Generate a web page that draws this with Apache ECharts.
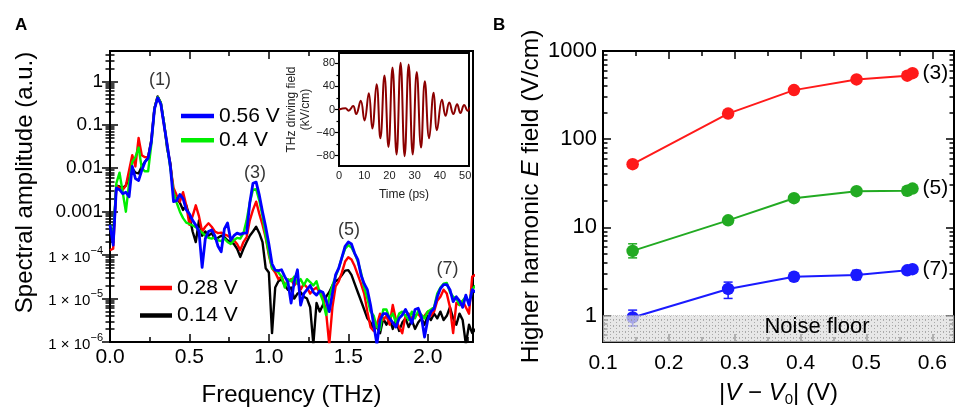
<!DOCTYPE html>
<html>
<head>
<meta charset="utf-8">
<script src="https://cdn.jsdelivr.net/npm/echarts@6/dist/echarts.min.js"></script>
<style>
  html, body { margin: 0; padding: 0; background: #fff; }
  #chart { width: 955px; height: 407px; }
</style>
</head>
<body>
<div id="chart"></div>
<script>
const FONT = '"Liberation Sans", Arial, Helvetica, sans-serif';

// ---------- Panel A: emission spectra ----------
const freqTHz = [
  0.00,0.02,0.04,0.06,0.08,0.10,0.12,0.14,0.16,0.18,
  0.20,0.22,0.24,0.26,0.28,0.30,0.32,0.34,0.36,0.38,
  0.40,0.42,0.44,0.46,0.48,0.50,0.52,0.54,0.56,0.58,
  0.60,0.62,0.64,0.66,0.68,0.70,0.72,0.74,0.76,0.78,
  0.80,0.82,0.84,0.86,0.88,0.90,0.92,0.94,0.96,0.98,
  1.00,1.02,1.04,1.06,1.08,1.10,1.12,1.14,1.16,1.18,
  1.20,1.22,1.24,1.26,1.28,1.30,1.32,1.34,1.36,1.38,
  1.40,1.42,1.44,1.46,1.48,1.50,1.52,1.54,1.56,1.58,
  1.60,1.62,1.64,1.66,1.68,1.70,1.72,1.74,1.76,1.78,
  1.80,1.82,1.84,1.86,1.88,1.90,1.92,1.94,1.96,1.98,
  2.00,2.02,2.04,2.06,2.08,2.10,2.12,2.14,2.16,2.18,
  2.20,2.22,2.24,2.26,2.28,2.30
];
const amp056V = [
  5.0e-4,1.7e-4,3.5e-3,3.2e-3,2.6e-3,2.8e-3,2.2e-3,1.1e-2,5.8e-3,5.2e-3,
  8.9e-3,1.4e-2,1.7e-2,4.0e-2,0.23,0.42,0.30,0.10,3.5e-2,1.1e-2,
  1.7e-3,1.8e-3,2.5e-3,2.0e-3,1.1e-3,8.9e-4,6.3e-4,4.9e-4,3.5e-4,5.2e-5,
  2.4e-4,3.5e-4,3.8e-4,2.8e-4,1.6e-4,1.2e-4,4.0e-4,5.5e-4,2.2e-4,2.8e-4,
  3.2e-4,3.0e-4,3.2e-4,3.2e-4,1.6e-3,4.5e-3,4.8e-3,2.4e-3,1.0e-3,4.5e-4,
  1.8e-4,6.3e-5,4.5e-5,4.4e-5,4.6e-5,3.2e-5,2.4e-5,7.9e-6,2.5e-5,4.6e-5,
  7.1e-6,1.3e-5,1.6e-5,2.0e-5,1.4e-5,1.2e-5,1.5e-5,1.4e-5,9.3e-6,5.0e-6,
  1.3e-5,3.5e-5,5.0e-5,8.9e-5,1.6e-4,2.0e-4,1.8e-4,1.1e-4,7.9e-5,3.5e-5,
  2.2e-5,1.6e-5,7.1e-6,2.5e-6,8.9e-7,3.2e-6,4.5e-6,4.5e-6,3.5e-6,2.8e-6,
  2.2e-6,3.5e-6,4.2e-6,5.6e-6,4.0e-6,2.7e-6,5.6e-6,6.0e-6,3.8e-6,1.3e-6,
  3.2e-6,5.0e-6,5.9e-6,1.1e-5,1.7e-5,2.1e-5,2.1e-5,1.6e-5,8.5e-6,1.1e-5,
  8.9e-6,6.3e-6,1.2e-5,7.1e-6,1.6e-5,1.4e-5
];
const amp040V = [
  5.0e-4,2.5e-4,4.5e-3,7.9e-3,2.8e-3,1.0e-3,4.5e-3,1.4e-2,1.8e-2,3.0e-2,
  1.0e-2,8.5e-3,8.5e-3,3.5e-2,0.24,0.44,0.32,0.11,3.2e-2,1.0e-2,
  2.8e-3,1.6e-3,1.0e-3,7.1e-4,5.6e-4,5.2e-4,4.8e-4,4.4e-4,3.8e-4,3.3e-4,
  2.8e-4,2.5e-4,2.4e-4,2.6e-4,2.2e-4,2.1e-4,2.4e-4,2.0e-4,1.8e-4,2.2e-4,
  2.5e-4,2.4e-4,3.2e-4,6.3e-4,1.6e-3,3.2e-3,3.3e-3,1.8e-3,7.9e-4,2.8e-4,
  1.1e-4,5.0e-5,4.5e-5,4.0e-5,3.2e-5,1.8e-5,2.8e-5,2.5e-5,3.2e-5,2.2e-5,
  2.8e-5,2.0e-5,2.8e-5,2.4e-5,2.0e-5,2.5e-5,1.4e-5,8.9e-6,4.2e-6,1.1e-5,
  2.0e-5,3.2e-5,5.0e-5,8.9e-5,1.4e-4,1.7e-4,1.5e-4,1.1e-4,7.1e-5,4.0e-5,
  1.8e-5,1.0e-5,5.0e-6,4.0e-6,2.2e-6,1.9e-6,5.6e-6,5.6e-6,3.5e-6,4.5e-6,
  2.8e-6,4.5e-6,5.0e-6,4.0e-6,3.2e-6,5.0e-6,3.5e-6,5.2e-6,4.2e-6,3.5e-6,
  5.0e-6,5.6e-6,6.3e-6,1.3e-5,1.8e-5,2.2e-5,2.3e-5,1.4e-5,1.1e-5,1.0e-5,
  7.1e-6,8.9e-6,1.1e-5,7.9e-6,1.6e-5,2.0e-5
];
const amp028V = [
  1.3e-4,1.4e-4,4.0e-3,3.5e-3,3.2e-3,4.0e-3,8.9e-3,2.0e-2,1.1e-2,5.0e-2,
  2.0e-2,1.8e-2,1.8e-2,4.0e-2,0.24,0.44,0.30,0.10,3.5e-2,1.1e-2,
  3.5e-3,2.4e-3,1.7e-3,2.8e-3,1.4e-3,5.0e-4,7.9e-4,1.4e-3,7.9e-4,3.5e-4,
  4.5e-4,5.4e-4,4.5e-4,3.5e-4,3.2e-4,3.3e-4,3.0e-4,2.8e-4,2.5e-4,2.2e-4,
  1.8e-4,1.3e-4,2.0e-4,2.6e-4,6.3e-4,1.1e-3,1.7e-3,8.9e-4,5.0e-4,2.5e-4,
  1.0e-4,5.0e-5,4.0e-5,2.8e-5,3.2e-5,2.0e-5,2.5e-5,2.8e-5,2.0e-5,2.5e-5,
  1.6e-5,2.2e-5,1.8e-5,1.3e-5,1.6e-5,1.8e-5,1.4e-5,1.1e-5,5.0e-6,8.9e-7,
  6.3e-6,1.9e-5,2.5e-5,4.0e-5,7.1e-5,8.9e-5,7.9e-5,5.6e-5,3.5e-5,2.2e-5,
  1.3e-5,5.0e-6,2.2e-6,1.8e-6,2.5e-6,4.5e-6,3.2e-6,4.0e-6,2.5e-6,7.1e-6,
  3.2e-6,2.2e-6,1.6e-6,4.0e-6,4.5e-6,3.5e-6,4.0e-6,4.5e-6,3.5e-6,4.0e-6,
  5.0e-6,4.0e-6,5.0e-6,8.9e-6,1.1e-5,1.6e-5,1.3e-5,6.3e-6,1.6e-6,7.9e-6,
  7.1e-6,8.9e-6,6.3e-6,4.5e-6,3.2e-5,3.5e-5
];
const amp014V = [
  3.5e-4,2.5e-4,4.0e-3,3.8e-3,3.5e-3,4.0e-3,6.3e-3,1.0e-2,7.9e-3,7.6e-3,
  1.1e-2,1.4e-2,1.8e-2,4.5e-2,0.24,0.45,0.32,0.11,2.8e-2,1.3e-2,
  2.5e-3,2.0e-3,1.6e-3,1.1e-3,1.4e-3,7.9e-4,3.5e-4,2.0e-4,6.3e-4,2.8e-4,
  3.5e-4,2.8e-4,3.2e-4,2.4e-4,2.5e-4,2.8e-4,2.6e-4,2.2e-4,2.0e-4,1.8e-4,
  1.4e-4,9.1e-5,1.4e-4,2.0e-4,2.8e-4,3.5e-4,4.5e-4,3.2e-4,2.0e-4,5.0e-5,
  4.0e-5,1.6e-6,1.8e-5,2.5e-5,2.8e-5,2.0e-5,1.6e-5,1.8e-5,1.0e-5,1.3e-5,
  1.4e-5,1.1e-5,1.0e-5,6.3e-6,8.9e-7,7.9e-6,5.0e-6,7.1e-6,1.1e-5,1.4e-5,
  2.0e-5,2.5e-5,2.8e-5,3.5e-5,4.4e-5,4.5e-5,3.5e-5,2.2e-5,1.4e-5,8.9e-6,
  5.6e-6,3.5e-6,2.8e-6,2.0e-6,2.2e-6,1.6e-6,3.5e-6,2.5e-6,3.5e-6,2.0e-6,
  3.2e-6,1.8e-6,2.8e-6,3.5e-6,2.2e-6,3.2e-6,2.0e-6,2.8e-6,3.5e-6,2.5e-6,
  4.0e-6,3.2e-6,4.5e-6,3.5e-6,5.0e-6,3.2e-6,4.0e-6,6.3e-6,3.5e-6,2.5e-6,
  4.5e-6,3.2e-6,8.9e-7,2.5e-6,1.6e-6,2.0e-6
];
const freqTicks = [0, 0.5, 1.0, 1.5, 2.0];
const freqMinorTicks = [0.25, 0.75, 1.25, 1.75, 2.25];
const ampTicks = [1e-6, 1e-5, 1e-4, 1e-3, 1e-2, 0.1, 1];
const harmonicTags = ['(1)', '(3)', '(5)', '(7)'];
const harmonicTagAt = [[0.315, 1.05], [0.912, 7.7e-3], [1.505, 3.7e-4], [2.124, 4.7e-5]];

// ---------- Inset: driving THz pulse (extrema of the trace) ----------
const pulseTime = [0, 2.6, 3.8, 5.6, 6.8, 8.6, 10.1, 11.8, 13.2, 14.9, 16.4, 18.0, 19.6, 21.2, 22.8,
  24.4, 26.0, 27.6, 29.2, 30.8, 32.5, 34.0, 35.7, 37.5, 38.8, 40.8, 42.2, 43.7, 45.3, 46.8, 48.1, 49.6, 51.0, 52.0];
const pulseField = [0, 2, -2, 6, -8, 15, -19, 28, -33, 44, -50, 59, -65, 73, -78,
  81, -81, 78, -78, 65, -66, 49, -50, 29, -36, 17, -11, 12, -8, 9, -6, 8, -2, 4];
const timeTicks = [0, 10, 20, 30, 40, 50];
const timeMinorTicks = [5, 15, 25, 35, 45];
const fieldTicks = [-80, -40, 0, 40, 80];
const fieldMinorTicks = [-60, -20, 20, 60];

// ---------- Panel B: harmonic field vs bias ----------
const biasV = [0.145, 0.29, 0.39, 0.485, 0.562, 0.57];
const harm3 = [52, 195, 360, 476, 525, 560];
const harm3Lo = [48, 185, 345, 460, 510, 545];
const harm3Hi = [56, 205, 375, 492, 540, 575];
const harm5 = [5.4, 12.0, 21.4, 25.7, 26.0, 27.5];
const harm5Lo = [4.5, 11.4, 20.2, 24.6, 24.9, 26.4];
const harm5Hi = [6.5, 12.6, 22.6, 26.8, 27.1, 28.6];
const harm7 = [0.95, 2.0, 2.75, 2.88, 3.25, 3.35];
const harm7Lo = [0.76, 1.56, 2.6, 2.55, 3.12, 3.22];
const harm7Hi = [1.15, 2.39, 2.9, 3.25, 3.38, 3.48];
const noiseFloorLevel = 1;
const noiseLabelBias = 0.425;
const biasTicks = [0.1, 0.2, 0.3, 0.4, 0.5, 0.6];
const biasMinorTicks = [0.15, 0.25, 0.35, 0.45, 0.55];
const fieldBTicks = [1, 10, 100, 1000];

// minor ticks at 2..9 × 10^n inside [lo, hi]
function logMinor(lo, hi) {
  const out = [];
  for (let e = Math.floor(Math.log10(lo)); e <= Math.ceil(Math.log10(hi)); e++) {
    for (let m = 2; m <= 9; m++) {
      const v = m * Math.pow(10, e);
      if (v > lo * 1.0001 && v < hi * 0.9999) out.push(+v.toPrecision(3));
    }
  }
  return out;
}

// four axes per side pair: major+minor on the labelled side, major+minor mirrored
function frameAxes(o) {
  const base = {
    gridIndex: o.grid, type: o.type, min: o.min, max: o.max,
    splitLine: { show: false }, axisLine: { show: false }, silent: true
  };
  if (o.type === 'log') base.logBase = 10;
  const tick = (vals, len) => ({
    show: true, inside: true, length: len, customValues: vals,
    lineStyle: { color: '#000', width: o.tickWidth || 1.5 }
  });
  const off = { show: false };
  return [
    Object.assign({}, base, { position: o.pos[0], axisTick: tick(o.majors, o.len[0]),
      axisLabel: Object.assign({ customValues: o.majors, color: '#000', fontFamily: FONT }, o.label) }, o.extra || {}),
    Object.assign({}, base, { position: o.pos[0], axisTick: tick(o.minors, o.len[1]), axisLabel: off }),
    Object.assign({}, base, { position: o.pos[1], axisTick: tick(o.majors, o.len[0]), axisLabel: off }),
    Object.assign({}, base, { position: o.pos[1], axisTick: tick(o.minors, o.len[1]), axisLabel: off })
  ];
}

const X_A = 0, X_IN = 4, X_B = 8;
const xAxes = [].concat(
  frameAxes({ grid: 0, type: 'value', min: 0, max: 2.285, majors: freqTicks, minors: freqMinorTicks,
    pos: ['bottom', 'top'], len: [8, 5],
    label: { fontSize: 21, margin: 5, formatter: v => v.toFixed(1) },
    extra: { name: 'Frequency (THz)', nameLocation: 'middle', nameGap: 41,
      nameTextStyle: { fontSize: 24, color: '#000', fontFamily: FONT } } }),
  frameAxes({ grid: 1, type: 'value', min: 0, max: 51.5, majors: timeTicks, minors: timeMinorTicks,
    pos: ['bottom', 'top'], len: [4, 2.5], tickWidth: 1.2,
    label: { fontSize: 11, margin: 4, color: '#222' },
    extra: { name: 'Time (ps)', nameLocation: 'middle', nameGap: 23,
      nameTextStyle: { fontSize: 12, color: '#222', fontFamily: FONT } } }),
  frameAxes({ grid: 2, type: 'value', min: 0.1, max: 0.633, majors: biasTicks, minors: biasMinorTicks,
    pos: ['bottom', 'top'], len: [8, 5],
    label: { fontSize: 21, margin: 11, formatter: v => v.toFixed(1) },
    extra: { name: '|{i|V} − {i|V}{sub|0}| (V)', nameLocation: 'middle', nameGap: 37,
      nameTextStyle: { fontSize: 24, color: '#000', fontFamily: FONT, lineHeight: 28,
        rich: { i: { fontSize: 24, fontStyle: 'italic', fontFamily: FONT, lineHeight: 28 },
                sub: { fontSize: 15, fontFamily: FONT, verticalAlign: 'bottom', lineHeight: 18 } } } } })
);

const Y_A = 0, Y_IN = 4, Y_B = 8;
const yAxes = [].concat(
  frameAxes({ grid: 0, type: 'log', min: 1e-6, max: 5, majors: ampTicks, minors: logMinor(1e-6, 5),
    pos: ['left', 'right'], len: [8, 4.5],
    label: { fontSize: 19, margin: 7,
      formatter: v => {
        if (v >= 1e-3) return String(+v.toPrecision(1));
        const e = Math.round(-Math.log10(v));
        return '{s|1 × 10}{sup|−' + e + '}';
      },
      rich: {
        s: { fontSize: 15, fontFamily: FONT, color: '#000', lineHeight: 20, verticalAlign: 'bottom' },
        sup: { fontSize: 11, fontFamily: FONT, color: '#000', lineHeight: 11, verticalAlign: 'top' }
      } },
    extra: { name: 'Spectral amplitude (a.u.)', nameLocation: 'middle', nameGap: 73,
      nameTextStyle: { fontSize: 24, color: '#000', fontFamily: FONT, padding: [0, 0, 0, 28] } } }),
  frameAxes({ grid: 1, type: 'value', min: -98, max: 98, majors: fieldTicks, minors: fieldMinorTicks,
    pos: ['left', 'right'], len: [4, 2.5], tickWidth: 1.2,
    label: { fontSize: 11, margin: 4, color: '#222',
      formatter: v => (v < 0 ? '−' + Math.abs(v) : String(v)) },
    extra: { name: 'THz driving field\n(kV/cm)', nameLocation: 'middle', nameGap: 26,
      nameTextStyle: { fontSize: 12, lineHeight: 14, color: '#222', fontFamily: FONT } } }),
  frameAxes({ grid: 2, type: 'log', min: 0.5, max: 1000, majors: fieldBTicks, minors: logMinor(0.5, 1000),
    pos: ['left', 'right'], len: [8, 4.5],
    label: { fontSize: 22, margin: 6, formatter: v => String(v) },
    extra: { name: 'Higher harmonic {i|E} field (V/cm)', nameLocation: 'middle', nameGap: 55,
      nameTextStyle: { fontSize: 24.5, color: '#000', fontFamily: FONT,
        rich: { i: { fontSize: 24.5, fontStyle: 'italic', fontFamily: FONT } } } } })
);

// spectrum traces
function spectrum(name, values, color, width) {
  return {
    type: 'line', name, xAxisIndex: X_A, yAxisIndex: Y_A,
    data: freqTHz.map((f, i) => [f, values[i]]),
    showSymbol: false, symbol: 'none', clip: true, animation: false,
    lineStyle: { color, width, join: 'round' }, itemStyle: { color }
  };
}

// harmonic amplitude with connecting line
function harmonicLine(tag, values, color) {
  return {
    type: 'line', name: tag, xAxisIndex: X_B, yAxisIndex: Y_B,
    data: biasV.map((v, i) => [v, values[i]]),
    symbol: 'circle', symbolSize: 12.5, showSymbol: true, animation: false, z: 4,
    lineStyle: { color, width: 2 }, itemStyle: { color },
    endLabel: { show: true, formatter: tag, fontSize: 21, color: '#000', fontFamily: FONT, distance: 10 }
  };
}

function errorBars(lo, hi, color) {
  return {
    type: 'custom', xAxisIndex: X_B, yAxisIndex: Y_B, animation: false, z: 3, silent: true,
    data: biasV.map((v, i) => [v, lo[i], hi[i]]),
    encode: { x: 0, y: [1, 2] },
    renderItem(params, api) {
      const top = api.coord([api.value(0), api.value(2)]);
      const bot = api.coord([api.value(0), api.value(1)]);
      const hw = 4.5;
      const st = { stroke: color, lineWidth: 1.5 };
      return { type: 'group', children: [
        { type: 'line', shape: { x1: top[0], y1: top[1], x2: bot[0], y2: bot[1] }, style: st },
        { type: 'line', shape: { x1: top[0] - hw, y1: top[1], x2: top[0] + hw, y2: top[1] }, style: st },
        { type: 'line', shape: { x1: bot[0] - hw, y1: bot[1], x2: bot[0] + hw, y2: bot[1] }, style: st }
      ] };
    }
  };
}

// dotted texture of the noise-floor band
function floorTexture() {
  const c = document.createElement('canvas');
  c.width = 6; c.height = 6;
  const g = c.getContext('2d');
  g.fillStyle = 'rgba(222,222,222,0.72)';
  g.fillRect(0, 0, 6, 6);
  g.fillStyle = 'rgba(150,150,150,0.75)';
  g.fillRect(1, 1, 1, 2);
  g.fillRect(4, 4, 1, 1);
  g.fillRect(4, 1, 1, 1);
  return c;
}
const texture = floorTexture();

const noiseFloor = {
  type: 'custom', xAxisIndex: X_B, yAxisIndex: Y_B, animation: false, z: 6, silent: true,
  data: [[0.1, 0.633, noiseFloorLevel]],
  encode: { x: [0, 1], y: 2 },
  renderItem(params, api) {
    const a = api.coord([api.value(0), api.value(2)]);
    const b = api.coord([api.value(1), 0.5]);
    const tx = api.coord([noiseLabelBias, 0.5])[0];
    return { type: 'group', children: [
      { type: 'rect', shape: { x: a[0], y: a[1], width: b[0] - a[0], height: b[1] - a[1] },
        style: { fill: { image: texture, repeat: 'repeat' }, stroke: 'rgba(150,150,150,0.8)', lineWidth: 0.6, lineDash: [1, 1] } },
      { type: 'text', x: tx, y: (a[1] + b[1]) / 2 - 2,
        style: { text: 'Noise floor', fontSize: 22, fontFamily: FONT, fill: '#000', align: 'center', verticalAlign: 'middle' } }
    ] };
  }
};

const option = {
  animation: false,
  backgroundColor: '#fff',
  textStyle: { fontFamily: FONT },
  grid: [
    { left: 110, top: 51, width: 363, height: 291, outerBoundsMode: 'none', containLabel: false,
      show: true, borderColor: '#000', borderWidth: 2, backgroundColor: 'transparent' },
    { left: 339, top: 53, width: 130, height: 113, outerBoundsMode: 'none', containLabel: false,
      show: true, borderColor: '#000', borderWidth: 2, backgroundColor: '#fff', z: 3 },
    { left: 603, top: 51, width: 351, height: 291, outerBoundsMode: 'none', containLabel: false,
      show: true, borderColor: '#000', borderWidth: 2, backgroundColor: 'transparent' }
  ],
  xAxis: xAxes,
  yAxis: yAxes,
  legend: [
    { data: ['0.56 V', '0.4 V'], left: 176, top: 100, orient: 'vertical', icon: 'rect',
      itemWidth: 33, itemHeight: 4.5, itemGap: 2.3, selectedMode: false,
      textStyle: { fontSize: 21, color: '#000', fontFamily: FONT, lineHeight: 22 } },
    { data: ['0.28 V', '0.14 V'], left: 135, top: 272, orient: 'vertical', icon: 'rect',
      itemWidth: 32, itemHeight: 4.5, itemGap: 5.5, selectedMode: false,
      textStyle: { fontSize: 21, color: '#000', fontFamily: FONT, lineHeight: 22 } }
  ],
  title: [
    { text: 'A', left: 10, top: 12, textStyle: { fontSize: 17, fontWeight: 'bold', color: '#000', fontFamily: FONT } },
    { text: 'B', left: 488, top: 12, textStyle: { fontSize: 17, fontWeight: 'bold', color: '#000', fontFamily: FONT } }
  ],
  series: [
    spectrum('0.14 V', amp014V, '#000000', 2.4),
    spectrum('0.28 V', amp028V, '#ff0000', 2.4),
    spectrum('0.4 V', amp040V, '#00ee00', 2.4),
    spectrum('0.56 V', amp056V, '#0000ff', 2.8),
    {
      type: 'scatter', name: 'tags', xAxisIndex: X_A, yAxisIndex: Y_A, silent: true, animation: false,
      symbolSize: 1, itemStyle: { color: 'rgba(0,0,0,0)' },
      data: harmonicTagAt.map((p, i) => ({ value: p, label: { formatter: harmonicTags[i] } })),
      label: { show: true, position: 'inside', fontSize: 18, color: '#000', fontFamily: FONT }, z: 5
    },
    {
      type: 'line', name: 'pulse', xAxisIndex: X_IN, yAxisIndex: Y_IN, z: 5, animation: false,
      data: pulseTime.map((t, i) => [t, pulseField[i]]),
      smooth: 0.45, showSymbol: false, symbol: 'none', clip: true,
      lineStyle: { color: '#8b0000', width: 2 }
    },
    errorBars(harm3Lo, harm3Hi, '#ff1a1a'),
    errorBars(harm5Lo, harm5Hi, '#22aa22'),
    errorBars(harm7Lo, harm7Hi, '#1a1aff'),
    harmonicLine('(3)', harm3, '#ff1a1a'),
    harmonicLine('(5)', harm5, '#22aa22'),
    harmonicLine('(7)', harm7, '#1a1aff'),
    noiseFloor
  ]
};

const chart = echarts.init(document.getElementById('chart'), null, { renderer: 'canvas' });
chart.setOption(option);
</script>
</body>
</html>
